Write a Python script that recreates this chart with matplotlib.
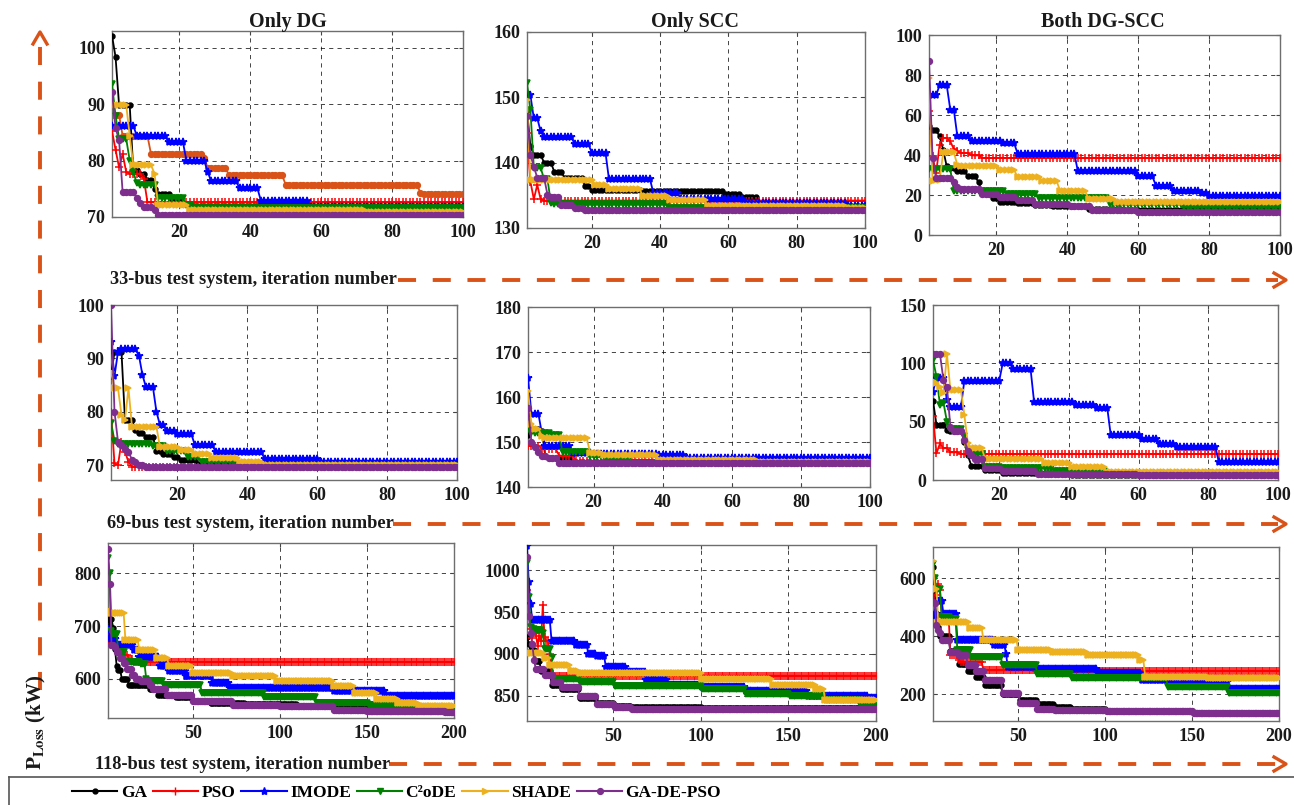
import numpy as np
import matplotlib
matplotlib.use("Agg")
import matplotlib.pyplot as plt
from matplotlib.lines import Line2D
from matplotlib.font_manager import FontProperties

plt.rcParams['font.family'] = ['Liberation Serif', 'DejaVu Serif']
plt.rcParams['font.weight'] = 'bold'
plt.rcParams['mathtext.fontset'] = 'stix'
plt.rcParams['lines.scale_dashes'] = False

W, H = 1294, 805

algorithms = ["GA", "PSO", "IMODE", "C²oDE", "SHADE", "GA-DE-PSO"]
colors = ["#000000", "#FF0000", "#0000FF", "#008000", "#EDB120", "#7E2F8E"]
markers = [".", "+", "*", "v", ">", "o"]
marker_sizes = [7, 5.5, 6, 4.2, 4.2, 4.2]

# Best loss per iteration, stored as (iteration, value) change points of each run.
dg33 = {
    "GA": [(1, 102.2), (2, 98.4), (3, 89.8), (7, 78.3), (9, 77.6), (11, 76.5), (13, 75.0), (14, 74.0),
           (18, 73.2), (21, 72.3), (24, 71.9)],
    "PSO": [(1, 85.3), (2, 81.9), (3, 78.8), (4, 81.2), (5, 78.0), (6, 77.7), (10, 76.7), (11, 72.6)],
    "IMODE": [(1, 86.2), (8, 84.4), (17, 83.3), (22, 80.0), (28, 78.0), (29, 76.3), (37, 75.1), (43, 72.9),
              (57, 71.8)],
    "C²oDE": [(1, 93.6), (2, 88.0), (3, 83.9), (6, 80.0), (7, 78.0), (8, 76.0), (9, 75.7), (14, 73.4),
              (22, 72.1), (24, 71.6)],
    "SHADE": [(1, 89.9), (6, 84.4), (7, 79.2), (13, 77.7), (14, 72.1), (23, 71.3), (73, 70.9)],
    "GA-DE-PSO": [(1, 92.2), (2, 85.8), (3, 83.6), (4, 74.4), (8, 73.4), (9, 72.4), (10, 71.8), (13, 71.2),
                  (14, 70.4)],
}
dg33_orange = [(1, 88.1), (4, 84.4), (12, 81.2), (27, 80.5), (28, 78.7), (34, 77.4), (50, 75.7), (88, 74.3),
               (89, 74.0)]

scc33 = {
    "GA": [(1, 148.1), (2, 142.5), (3, 141.2), (6, 140.0), (9, 138.6), (12, 137.7), (18, 136.5), (20, 135.8),
           (35, 135.6), (59, 135.2), (64, 134.7), (69, 133.9), (71, 133.4)],
    "PSO": [(1, 144.5), (2, 137.1), (3, 134.4), (4, 136.6), (5, 134.4), (6, 134.2)],
    "IMODE": [(1, 150.7), (2, 150.3), (3, 146.8), (5, 144.8), (6, 143.9), (15, 142.8), (20, 141.5),
              (25, 137.5), (38, 135.4), (46, 134.4), (65, 133.8), (95, 133.4)],
    "C²oDE": [(1, 152.2), (2, 148.1), (3, 139.2), (6, 137.5), (8, 133.8), (9, 133.6), (43, 133.1)],
    "SHADE": [(1, 149.6), (2, 137.4), (21, 136.6), (25, 135.9), (35, 134.9), (43, 134.3), (54, 133.3),
              (95, 133.0)],
    "GA-DE-PSO": [(1, 147.1), (2, 141.2), (3, 139.4), (4, 137.7), (7, 135.1), (8, 134.8), (11, 133.5),
                  (15, 133.0), (18, 132.7)],
}

both33 = {
    "GA": [(1, 54.7), (2, 52.3), (4, 49.3), (5, 42.6), (6, 34.3), (7, 33.5), (9, 31.8), (12, 29.3), (15, 26.3),
           (16, 21.2), (19, 18.4), (21, 16.7), (26, 16.0), (31, 15.2), (36, 14.5), (46, 13.0), (56, 12.3)],
    "PSO": [(1, 61.9), (2, 39.3), (3, 30.9), (4, 45.2), (5, 48.5), (7, 46.8), (8, 43.0), (9, 41.8), (10, 41.0),
            (13, 39.8), (16, 38.5)],
    "IMODE": [(1, 69.9), (4, 74.9), (7, 62.7), (9, 49.3), (13, 47.2), (22, 46.0), (26, 40.6), (43, 31.8),
              (60, 29.3), (65, 24.7), (70, 22.2), (78, 20.8), (80, 19.6)],
    "C²oDE": [(1, 32.9), (8, 22.2), (23, 20.4), (32, 18.7), (46, 18.3), (52, 15.6), (73, 13.9)],
    "SHADE": [(1, 78.6), (2, 26.8), (3, 27.5), (5, 41.3), (9, 35.0), (10, 34.3), (21, 32.6), (26, 28.8),
              (33, 26.8), (38, 22.2), (46, 18.1), (54, 16.7)],
    "GA-DE-PSO": [(1, 87.0), (2, 38.5), (3, 28.4), (8, 26.5), (9, 24.0), (10, 22.9), (16, 20.6), (21, 19.2),
                  (26, 17.5), (31, 15.5), (41, 14.5), (47, 12.5), (60, 11.7)],
}

dg69 = {
    "GA": [(1, 86.7), (2, 91.2), (5, 78.4), (8, 76.6), (9, 76.0), (11, 75.3), (14, 72.7), (16, 72.0),
           (19, 71.6), (21, 70.9), (26, 70.2)],
    "PSO": [(1, 80.0), (2, 70.3), (3, 70.0), (4, 74.4), (5, 72.5), (6, 70.6), (7, 69.7)],
    "IMODE": [(1, 93.1), (2, 86.7), (3, 91.2), (4, 91.7), (9, 90.5), (10, 86.9), (11, 84.6), (14, 80.0),
              (15, 77.5), (17, 76.3), (20, 75.8), (25, 73.7), (31, 72.4), (45, 71.1), (61, 70.5)],
    "C²oDE": [(1, 77.9), (2, 74.6), (3, 73.9), (13, 73.6), (17, 72.6), (23, 71.5), (27, 70.6), (37, 69.9)],
    "SHADE": [(1, 87.5), (2, 84.4), (4, 79.4), (5, 78.5), (6, 84.4), (7, 77.2), (15, 73.4), (21, 72.8),
              (25, 72.0), (30, 71.3), (38, 70.6), (45, 70.1)],
    "GA-DE-PSO": [(1, 100.0), (2, 80.0), (3, 74.4), (4, 73.7), (5, 73.0), (6, 72.5), (7, 71.0), (8, 70.5),
                  (9, 70.0), (11, 69.6)],
}

scc69 = {
    "GA": [(1, 151.5), (2, 152.9), (5, 152.5), (6, 146.8), (7, 146.5), (14, 145.6)],
    "PSO": [(1, 149.2), (5, 148.5), (10, 147.0), (15, 145.7)],
    "IMODE": [(1, 164.2), (2, 156.3), (5, 152.0), (6, 149.2), (14, 147.6), (20, 147.3), (39, 147.2),
              (47, 146.4)],
    "C²oDE": [(1, 153.5), (2, 152.0), (8, 151.5), (11, 147.8), (19, 147.0), (24, 146.1), (31, 145.4)],
    "SHADE": [(1, 161.4), (2, 153.9), (3, 153.0), (5, 151.3), (6, 150.8), (19, 147.6), (23, 147.2),
              (39, 146.1), (68, 145.5)],
    "GA-DE-PSO": [(1, 157.6), (2, 149.9), (3, 149.0), (4, 147.7), (5, 147.0), (6, 146.8), (7, 146.5),
                  (10, 145.3)],
}

both69 = {
    "GA": [(1, 68.0), (2, 47.1), (5, 42.9), (6, 42.3), (10, 32.9), (11, 21.0), (12, 12.3), (16, 8.6),
           (21, 6.0), (41, 4.5)],
    "PSO": [(1, 54.9), (2, 22.9), (3, 31.4), (4, 27.1), (5, 27.5), (6, 23.7), (9, 22.3)],
    "IMODE": [(1, 75.7), (2, 87.0), (5, 68.6), (6, 62.3), (10, 85.1), (21, 100.0), (24, 95.1), (30, 67.1),
              (42, 64.5), (48, 62.0), (52, 38.6), (61, 35.1), (66, 30.9), (71, 28.6), (83, 15.7)],
    "C²oDE": [(1, 102.9), (2, 88.6), (3, 64.3), (4, 66.3), (5, 50.0), (6, 43.4), (10, 38.0), (11, 25.7),
              (12, 22.0), (16, 11.4), (21, 10.0), (36, 8.0), (51, 5.0)],
    "SHADE": [(1, 84.9), (2, 82.9), (3, 80.0), (4, 74.3), (5, 108.0), (6, 77.1), (10, 55.7), (11, 31.4),
              (12, 27.1), (16, 17.7), (33, 14.3), (41, 11.0), (51, 7.0)],
    "GA-DE-PSO": [(1, 108.0), (4, 85.7), (5, 80.0), (6, 45.1), (7, 42.0), (10, 34.3), (11, 25.0), (12, 21.4),
                  (13, 18.0), (16, 10.0), (21, 8.0), (31, 5.0), (60, 4.3)],
}

dg118 = {
    "GA": [(1, 713), (2, 700), (3, 713), (4, 696), (5, 657), (6, 624), (7, 616), (9, 600), (13, 589), (25, 580),
           (30, 570), (40, 565), (50, 558), (60, 555), (80, 552), (110, 548), (150, 543), (180, 540)],
    "PSO": [(1, 677), (2, 668), (3, 665), (6, 660), (10, 646), (13, 638), (16, 632)],
    "IMODE": [(1, 694), (2, 680), (3, 675), (6, 665), (16, 655), (19, 642), (31, 624), (36, 614), (46, 605),
              (61, 592), (71, 583), (131, 577), (161, 567)],
    "C²oDE": [(1, 828), (2, 800), (3, 690), (4, 684), (7, 650), (11, 631), (20, 628), (23, 600), (24, 596),
              (33, 589), (55, 574), (91, 566), (121, 555), (151, 550), (176, 545)],
    "SHADE": [(1, 731), (2, 725), (11, 674), (19, 655), (29, 640), (36, 624), (50, 611), (73, 605), (98, 596),
              (131, 586), (143, 574), (156, 561), (168, 555), (180, 548)],
    "GA-DE-PSO": [(1, 845), (2, 779), (3, 665), (5, 660), (6, 650), (8, 640), (10, 630), (12, 618), (15, 608),
                  (17, 600), (20, 596), (25, 588), (27, 580), (35, 570), (50, 558), (73, 551), (100, 548),
                  (131, 542), (150, 540), (181, 539), (195, 538)],
}

scc118 = {
    "GA": [(1, 920.6), (2, 912), (3, 905), (6, 892), (9, 880), (15, 863), (21, 858), (31, 848), (41, 842),
           (51, 838), (61, 837), (101, 835)],
    "PSO": [(1, 976), (2, 960), (3, 930), (4, 919), (5, 925), (7, 910), (8, 922), (9, 915), (10, 958), (11, 920),
            (12, 915), (14, 900), (15, 876), (16, 874)],
    "IMODE": [(1, 1028.6), (2, 986), (3, 960), (4, 940.5), (15, 915.5), (29, 911), (36, 900), (41, 897),
              (46, 884), (58, 878), (69, 869), (81, 863), (101, 860), (126, 856), (161, 850), (196, 847)],
    "C²oDE": [(1, 1009), (2, 968), (3, 932.5), (4, 930), (6, 928.6), (10, 925), (11, 905.6), (15, 895),
              (16, 870), (31, 867), (51, 862), (101, 858), (126, 852), (151, 850), (171, 845), (191, 840)],
    "SHADE": [(1, 900.8), (11, 895), (14, 887), (26, 880), (31, 877), (101, 870), (141, 863), (166, 858),
              (171, 845)],
    "GA-DE-PSO": [(1, 1016), (2, 945), (3, 925), (4, 912), (5, 893), (6, 882), (11, 875), (16, 866), (21, 860),
                  (31, 850), (41, 840), (51, 837), (61, 834)],
}

both118 = {
    "GA": [(1, 638), (2, 520), (3, 470), (4, 432), (5, 400), (11, 350), (16, 305), (21, 280), (26, 260),
           (31, 230), (41, 200), (51, 180), (61, 165), (71, 155), (81, 148), (101, 140), (151, 135)],
    "PSO": [(1, 563), (2, 510), (3, 540), (4, 580), (5, 560), (6, 480), (7, 470), (11, 334), (16, 317),
            (17, 310), (30, 282), (60, 280)],
    "IMODE": [(1, 468), (2, 480), (3, 520), (7, 477), (15, 386), (36, 370), (43, 338), (44, 294), (61, 285),
              (96, 272), (121, 250), (141, 242), (171, 219)],
    "C²oDE": [(1, 649), (2, 600), (3, 560), (4, 563), (6, 465), (11, 460), (15, 351), (23, 328), (41, 300),
              (61, 269), (81, 257), (136, 225), (171, 202)],
    "SHADE": [(1, 658), (2, 563), (4, 449), (22, 426), (30, 388), (50, 351), (70, 345), (90, 334), (120, 317),
              (123, 260), (160, 254)],
    "GA-DE-PSO": [(1, 517), (2, 515), (3, 437), (4, 420), (5, 410), (6, 386), (11, 345), (16, 335), (21, 300),
                  (26, 280), (31, 250), (41, 205), (51, 170), (61, 148), (71, 145), (101, 140), (151, 133)],
}

col_titles = ["Only DG", "Only SCC", "Both DG-SCC"]
row_labels = ["33-bus test system, iteration number",
              "69-bus test system, iteration number",
              "118-bus test system, iteration number"]
iterations = [100, 100, 200]

panels = [
    # data, (left, top, right, bottom) px, ylim, yticks, xticks
    (dg33, (112, 31, 463, 217), (70, 103), [70, 80, 90, 100], [20, 40, 60, 80, 100]),
    (scc33, (527, 32, 865, 228), (130, 160), [130, 140, 150, 160], [20, 40, 60, 80, 100]),
    (both33, (929, 35, 1280, 235), (0, 100), [0, 20, 40, 60, 80, 100], [20, 40, 60, 80, 100]),
    (dg69, (111, 305, 457, 480), (67.2, 100), [70, 80, 90, 100], [20, 40, 60, 80, 100]),
    (scc69, (528, 307, 870, 487), (140, 180), [140, 150, 160, 170, 180], [20, 40, 60, 80, 100]),
    (both69, (933, 305, 1278, 480), (0, 150), [0, 50, 100, 150], [20, 40, 60, 80, 100]),
    (dg118, (108, 543, 454, 718), (526, 857), [600, 700, 800], [50, 100, 150, 200]),
    (scc118, (527, 545, 876, 721), (820, 1030), [850, 900, 950, 1000], [50, 100, 150, 200]),
    (both118, (933, 547, 1279, 721), (107, 707), [200, 400, 600], [50, 100, 150, 200]),
]


def expand(points, n):
    """Hold each recorded value until the next change point."""
    it = np.arange(1, n + 1)
    xs = np.array([p[0] for p in points])
    vs = np.array([p[1] for p in points], dtype=float)
    idx = np.searchsorted(xs, it, side="right") - 1
    return it, vs[idx]


def px_axes(fig, l, t, r, b):
    return fig.add_axes([l / W, 1 - b / H, (r - l) / W, (b - t) / H])


fig = plt.figure(figsize=(W / 100, H / 100), dpi=100)

tick_font = FontProperties(family=['Liberation Serif'], weight='bold', size=13)

for k, (data, box, ylim, yticks, xticks) in enumerate(panels):
    n = iterations[k // 3]
    ax = px_axes(fig, *box)
    if data is dg33:
        x, y = expand(dg33_orange, n)
        ax.plot(x, y, color="#D95319", marker="o", ms=4.2, lw=1.3, zorder=2)
    for j, name in enumerate(algorithms):
        x, y = expand(data[name], n)
        ax.plot(x, y, color=colors[j], marker=markers[j], ms=marker_sizes[j], mew=1.1,
                lw=1.3, zorder=3 + j)
    ax.set_xlim(1, n)
    ax.set_ylim(*ylim)
    ax.set_xticks(xticks)
    ax.set_yticks(yticks)
    ax.grid(True, color="#000000", linestyle=(0, (3, 3)), linewidth=0.6, alpha=0.85)
    ax.tick_params(direction="in", length=3, width=0.8, top=True, right=True, pad=5, colors="#444444",
                   labelcolor="#1a1a1a")
    for lab in ax.get_xticklabels() + ax.get_yticklabels():
        lab.set_fontproperties(tick_font)
    for sp in ax.spines.values():
        sp.set_color("#6e6e6e")
        sp.set_linewidth(1.0)

# column titles
for x, title in zip([288, 695, 1103], col_titles):
    fig.text(x / W, 1 - 22 / H, title, ha="center", va="center", fontsize=14.5, weight="bold", color="#1a1a1a")

orange = "#D95319"


def fig_line(xs, ys, **kw):
    fig.add_artist(Line2D([v / W for v in xs], [1 - v / H for v in ys], transform=fig.transFigure, **kw))


# row captions with dashed arrows
for (tx, ty, x0), text in zip([(110, 280, 398), (107, 524, 393), (95, 764, 389)], row_labels):
    fig.text(tx / W, 1 - ty / H, text, ha="left", va="center", fontsize=13.2, weight="bold", color="#1a1a1a")
    fig_line([x0, 1278], [ty, ty], color=orange, lw=2.8, linestyle=(0, (13, 12)), solid_capstyle="butt")
    fig_line([1274, 1286, 1274], [ty - 7, ty, ty + 7], color=orange, lw=2.4)

# vertical dashed arrow on the left
fig_line([40, 40], [690, 40], color=orange, lw=2.8, linestyle=(0, (13, 12)))
fig_line([33, 40, 47], [44, 32, 44], color=orange, lw=2.4)

fig.text(36 / W, 1 - 722 / H, r"$\mathbf{P_{Loss}}$ (kW)", rotation=90, ha="center", va="center",
         fontsize=15, weight="bold", color="#1a1a1a")

# legend frame
fig_line([9, 1294], [777, 777], color="#555555", lw=1.2)
fig_line([9, 9], [777, 805], color="#555555", lw=1.2)

handles = [Line2D([], [], color=c, marker=m, ms=ms, lw=1.5) for c, m, ms in zip(colors, markers, marker_sizes)]
fig.legend(handles, algorithms, loc="center left", bbox_to_anchor=(60 / W, 1 - 793 / H), ncol=6,
           frameon=False, handlelength=2.6, handletextpad=0.2, columnspacing=0.35, borderpad=0.2,
           prop=dict(family=['Liberation Serif'], weight='bold', size=12.5))

fig.savefig("out.png", dpi=100)
